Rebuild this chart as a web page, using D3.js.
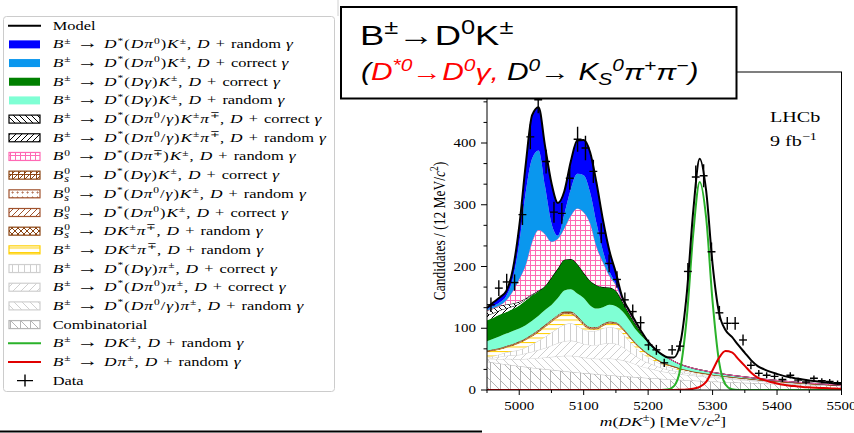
<!DOCTYPE html>
<html>
<head>
<meta charset="utf-8">
<script src="https://cdn.jsdelivr.net/npm/d3@7"></script>
<style>
  body { margin: 0; background: #fff; }
  svg { display: block; }
  text { white-space: pre; }
</style>
</head>
<body>
<svg id="chart" width="854" height="433"></svg>
<script>
// mass points for the fit components, MeV/c^2
var massGrid = d3.range(4950, 5501, 10);

// fit components (candidates per bin), bottom of the stack first
var combinatorial = [46.0,44.5,43.0,41.5,40.1,38.8,37.5,36.2,35.0,33.8,32.7,31.6,30.5,29.5,28.5,27.5,26.6,25.7,24.8,24.0,23.2,22.4,21.7,20.9,20.2,19.5,18.9,18.3,17.6,17.0,16.5,15.9,15.4,14.8,14.3,13.8,13.4,12.9,12.5,12.1,11.7,11.3,10.9,10.5,10.2,9.8,9.5,9.2,8.9,8.6,8.3,8.0,7.7,7.5,7.2,7.0];
var dstarPiRandom = [3,5,7,9,10,11,13,15,17,19,21,23,25,26,26,25,25,25,26,27,27,26,24,21,18,16,14,12,11,10,9,8.5,8,7.5,7,6.5,6,5.5,5,4.6,4.2,3.8,3.4,3,2.7,2.4,2.1,1.8,1.6,1.4,1.2,1,0.8,0.5,0.3,0.1];
var dstarPi0PiCorrect = [1,2.5,4,5,6.4,7.2,9,10.8,13,15.2,18.3,21.4,23.5,24.5,23.5,22.5,21.4,22.3,24.2,25,24.8,21.6,17.3,13.6,10.8,8.5,7.1,5.7,4.4,4,3.2,2.8,2.3,2.1,1.8,1.6,1.4,1.3,1.2,1.1,1,0.9,0.8,0.7,0.6,0.6,0.5,0.4,0.3,0.3,0.2,0.2,0.1,0.1,0,0];
var dstarGammaPiCorrect = [2,3,4,5.5,6.5,8,9.5,12,15,18,21,24,27,28,26,23,22,23,25,26,25,22,17,13.5,11,9,7,6,5,4,3.3,2.8,2.3,2.1,1.9,1.6,1.5,1.3,1.3,1.2,1.1,1,0.9,0.8,0.7,0.6,0.5,0.4,0.4,0.3,0.3,0.2,0.2,0.1,0.1,0];
var dkpipiRandom = [10,9,8,8,9,11,12,13,14,16,17,18,17,15,12,7,3.5,2.5,4,6,7,7,7,6,5.5,4.5,4,3,2.8,2.5,2.2,2,1.7,1.5,1.4,1.3,1.2,1.1,1,1,0.9,0.9,0.8,0.8,0.7,0.7,0.6,0.6,0.5,0.5,0.4,0.4,0.3,0.3,0.3,0.2];
var bsDKpipi = [0.5,0.5,0.5,0.6,0.6,0.6,0.7,0.7,0.7,0.8,0.8,0.8,0.8,0.8,0.8,0.8,0.7,0.7,0.7,0.6,0.6,0.5,0.5,0.4,0.4,0.3,0.3,0.3,0.2,0.2,0.2,0.2,0.1,0.1,0.1];
var bsDstarPi0 = [0.4,0.4,0.5,0.5,0.6,0.7,0.8,0.9,0.9,0.8,0.7,0.7,0.8,0.9,1,0.9,0.8,0.7,0.6,0.5,0.4,0.3,0.3,0.2,0.2,0.1,0.1];
var bsDstarMixed = [0.5,0.5,0.6,0.6,0.6,0.7,0.7,0.8,0.8,0.9,0.9,1,1,1,1,0.9,0.9,0.9,0.9,0.9,0.8,0.8,0.7,0.6,0.5,0.5,0.4,0.4,0.3,0.3,0.3,0.2,0.2,0.2,0.1,0.1];
var bsDstarGamma = [0.6,0.6,0.6,0.7,0.7,0.8,0.8,0.9,1,1.1,1.2,1.3,1.4,1.4,1.3,1.2,1.1,1,1,1,0.9,0.8,0.7,0.6,0.5,0.4,0.4,0.3,0.3,0.3,0.2];
var dstarGammaKRandom = [15,17,19,20,21,21,21,22,23,24,24,27,34,36,36,40,35,30,27,27,26,26,25,22,20,18,14,12,10.5,8,6.5,5.5,5,4.3,4,3.7,3.4,3.1,2.8,2.5,2.3,2.1,1.9,1.7,1.5,1.4,1.2,1.1,1,0.9,0.8,0.7,0.6,0.5,0.4,0.3];
var dstarGammaKCorrect = [34,34,35,35,35.5,37,40,40.7,39.6,38.4,44.4,48.2,50,49,48,41,40,38,32.7,28,25,16.5,11,9,5,0.8,0.5,0.4,0.3,0.3,0.2,0.2,0.1,0.1,0.1];
var dstarKpiRandom = [8,7.5,7,6,4.5,3,1.8,1,0.5,0.2,0.1];
var dstarKpiCorrect = [8,7.5,7,6,4.5,3,1.8,1,0.5,0.2,0.1];
var b0DstarK = [0,1,1,7,20,37,54,85,98,84,58,48,51,70,90,98,93,62,40,19,9,2,1.5,1.5,1,0.3,0.2,0.1];
var dstarPi0KCorrect = [2,3,5,7,20,58,117,135,129,78,30,5,23,43,56,60,50,38,18,7,2,1.5,1,1,0.5,0.2,0.1];
var dstarPi0KRandom = [2,6,8,8,15,27,45,70,70,65,65,53,37,45,54,57,65,65,50,33,18,2.5,2.3,1.6,0.4,0.2,0.1];

// peaking lines, drawn from zero
var signalDK = [0,0,0,0,0,0,0,0,0,0,0,0,0,0,0,0,0,0,0,0,0,0,0,0,0,0,0,0,0.7,6.2,34.4,118,253,337,279,143,46,9,1.1,0.1];
var misidDpi = [0,0,0,0,0,0,0,0,0,0,0,0,0,0,0,0,0,0,0,0,0,0,0,0,0,0,0,0,0,0,0.3,0.8,2,5,13,32,52,63,61,50,39,28,20,16,13,10.5,8.5,7,6,5,4.3,3.7,3.2,2.8,2.4,2];

// data: 45 bins between 4950 and 5500
var dataCounts = [138,165,175,174,284,410,470,370,288,286,343,406,392,354,254,205,179,146,127,109,73,65,44,65,71,192,345,347,224,125,108,108,81,40,27,24,22,17,24,16,13,19,15,14,12];

var xMajorTicks = [5000, 5100, 5200, 5300, 5400, 5500];
var xMinorTicks = [4950, 5050, 5150, 5250, 5350, 5450];
var yMajorTicks = [0, 100, 200, 300, 400, 500];

var legendLabels = [
  "Model",
  "B^{±} → D^{*}(Dπ^{0})K^{±}, D + random γ",
  "B^{±} → D^{*}(Dπ^{0})K^{±}, D + correct γ",
  "B^{±} → D^{*}(Dγ)K^{±}, D + correct γ",
  "B^{±} → D^{*}(Dγ)K^{±}, D + random γ",
  "B^{±} → D^{*}(Dπ^{0}/γ)K^{±}π^{∓}, D + correct γ",
  "B^{±} → D^{*}(Dπ^{0}/γ)K^{±}π^{∓}, D + random γ",
  "B^{0} → D^{*}(Dπ^{∓})K^{±}, D + random γ",
  "B_{s}^{0} → D^{*}(Dγ)K^{±}, D + correct γ",
  "B_{s}^{0} → D^{*}(Dπ^{0}/γ)K^{±}, D + random γ",
  "B_{s}^{0} → D^{*}(Dπ^{0})K^{±}, D + correct γ",
  "B_{s}^{0} → DK^{±}π^{∓}, D + random γ",
  "B^{±} → DK^{±}π^{∓}, D + random γ",
  "B^{±} → D^{*}(Dγ)π^{±}, D + correct γ",
  "B^{±} → D^{*}(Dπ^{0})π^{±}, D + correct γ",
  "B^{±} → D^{*}(Dπ^{0}/γ)π^{±}, D + random γ",
  "Combinatorial",
  "B^{±} → DK^{±}, D + random γ",
  "B^{±} → Dπ^{±}, D + random γ",
  "Data"
];

// the whole picture is stretched sideways, so text is too
var SX = 1.3;

var svg = d3.select("#chart");
var defs = svg.append("defs");

// hatch patterns
function hatch(id, size, color, path, width, bg) {
  var p = defs.append("pattern").attr("id", id)
    .attr("patternUnits", "userSpaceOnUse")
    .attr("width", size).attr("height", size);
  p.append("rect").attr("width", size).attr("height", size).attr("fill", bg || "#fff");
  p.append("path").attr("d", path).attr("stroke", color)
    .attr("stroke-width", width || 1).attr("fill", "none");
  return p;
}
function fwd(s) { return "M0," + s + "L" + s + ",0M-1,1L1,-1M" + (s - 1) + "," + (s + 1) + "L" + (s + 1) + "," + (s - 1); }
function back(s) { return "M0,0L" + s + "," + s + "M-1," + (s - 1) + "L1," + (s + 1) + "M" + (s - 1) + ",-1L" + (s + 1) + ",1"; }

hatch("h-kh1", 6, "#000", back(6));
hatch("h-kh2", 6, "#000", fwd(6));
hatch("h-pink", 5, "#ff69b4", "M0,0.5H5M0.5,0V5");
hatch("h-bs1", 6, "#8b4513", "M0,0.5H6M0.5,0V6" + fwd(6));
hatch("h-bs2", 5, "#a0522d", "M2,2.5a0.6,0.6 0 1,0 1.2,0a0.6,0.6 0 1,0 -1.2,0");
hatch("h-bs3", 6, "#a0522d", fwd(6));
hatch("h-bs4", 6, "#8b4513", fwd(6) + back(6));
hatch("h-yellow", 4.5, "#ffd000", "M0,0.5H4.5");
hatch("h-g1", 6, "#cfcfcf", "M0.5,0V6");
hatch("h-g2", 8, "#cfcfcf", fwd(8));
hatch("h-g3", 8, "#cfcfcf", back(8));
hatch("h-comb", 10, "#b4b4b4", "M0.5,0V10" + back(10), 1);

// stack, bottom first
var components = [
  {key: "comb", values: combinatorial, fill: "url(#h-comb)", edge: "#b4b4b4", legend: 16},
  {key: "g3", values: dstarPiRandom, fill: "url(#h-g3)", edge: "#cfcfcf", legend: 15},
  {key: "g2", values: dstarPi0PiCorrect, fill: "url(#h-g2)", edge: "#cfcfcf", legend: 14},
  {key: "g1", values: dstarGammaPiCorrect, fill: "url(#h-g1)", edge: "#cfcfcf", legend: 13},
  {key: "yel", values: dkpipiRandom, fill: "url(#h-yellow)", edge: "#ffd000", legend: 12},
  {key: "bs4", values: bsDKpipi, fill: "url(#h-bs4)", edge: "#8b4513", legend: 11},
  {key: "bs3", values: bsDstarPi0, fill: "url(#h-bs3)", edge: "#a0522d", legend: 10},
  {key: "bs2", values: bsDstarMixed, fill: "url(#h-bs2)", edge: "#a0522d", legend: 9},
  {key: "bs1", values: bsDstarGamma, fill: "url(#h-bs1)", edge: "#8b4513", legend: 8},
  {key: "aqua", values: dstarGammaKRandom, fill: "#7fffd4", legend: 4},
  {key: "green", values: dstarGammaKCorrect, fill: "#008000", legend: 3},
  {key: "kh2", values: dstarKpiRandom, fill: "url(#h-kh2)", edge: "#000", legend: 6},
  {key: "kh1", values: dstarKpiCorrect, fill: "url(#h-kh1)", edge: "#000", legend: 5},
  {key: "pink", values: b0DstarK, fill: "url(#h-pink)", edge: "#ff69b4", legend: 7},
  {key: "lblue", values: dstarPi0KCorrect, fill: "#0a97ee", legend: 2},
  {key: "dblue", values: dstarPi0KRandom, fill: "#0000ff", legend: 1}
];

var rows = massGrid.map(function(m, i) {
  var r = {mass: m};
  components.forEach(function(c) { r[c.key] = c.values[i] || 0; });
  r.signal = signalDK[i] || 0;
  r.misid = misidDpi[i] || 0;
  return r;
});

var plot = {left: 487, right: 841.5, top: 72, bottom: 390};
var x = d3.scaleLinear().domain([4950, 5500]).range([plot.left, plot.right]);
var y = d3.scaleLinear().domain([0, 515]).range([plot.bottom, plot.top]);

defs.append("clipPath").attr("id", "clip").append("rect")
  .attr("x", plot.left).attr("y", plot.top)
  .attr("width", plot.right - plot.left).attr("height", plot.bottom - plot.top);

var stacked = d3.stack().keys(components.map(function(c) { return c.key; }))(rows);

var g = svg.append("g").attr("clip-path", "url(#clip)");

var area = d3.area().curve(d3.curveMonotoneX)
  .x(function(d) { return x(d.data.mass); })
  .y0(function(d) { return y(d[0]); })
  .y1(function(d) { return y(d[1]); });
var topLine = d3.line().curve(d3.curveMonotoneX)
  .x(function(d) { return x(d.data.mass); })
  .y(function(d) { return y(d[1]); });

stacked.forEach(function(layer, i) {
  var c = components[i];
  g.append("path").attr("d", area(layer)).attr("fill", c.fill);
  if (c.edge) g.append("path").attr("d", topLine(layer))
    .attr("fill", "none").attr("stroke", c.edge).attr("stroke-width", 1);
});

var simpleLine = function(acc) {
  return d3.line().curve(d3.curveMonotoneX)
    .x(function(d) { return x(d.mass); })
    .y(function(d) { return y(acc(d)); });
};

g.append("path").datum(rows)
  .attr("d", simpleLine(function(d) { return d.signal; }))
  .attr("fill", "none").attr("stroke", "#2ab22a").attr("stroke-width", 2);
g.append("path").datum(rows)
  .attr("d", simpleLine(function(d) { return d.misid; }))
  .attr("fill", "none").attr("stroke", "#e00000").attr("stroke-width", 2);

var stackTop = stacked[stacked.length - 1];
g.append("path").datum(rows)
  .attr("d", simpleLine(function(d) {
    var i = rows.indexOf(d);
    return stackTop[i][1] + d.signal + d.misid;
  }))
  .attr("fill", "none").attr("stroke", "#000").attr("stroke-width", 2);

// data with errors
var binWidth = 550 / dataCounts.length;
var pts = g.selectAll(".pt").data(dataCounts).enter().append("g").attr("class", "pt");
pts.append("line")
  .attr("x1", function(d, i) { return x(4950 + i * binWidth); })
  .attr("x2", function(d, i) { return x(4950 + (i + 1) * binWidth); })
  .attr("y1", function(d) { return y(d); })
  .attr("y2", function(d) { return y(d); });
pts.append("line")
  .attr("x1", function(d, i) { return x(4950 + (i + 0.5) * binWidth); })
  .attr("x2", function(d, i) { return x(4950 + (i + 0.5) * binWidth); })
  .attr("y1", function(d) { return y(d - Math.sqrt(d)); })
  .attr("y2", function(d) { return y(d + Math.sqrt(d)); });
pts.selectAll("line").attr("stroke", "#000").attr("stroke-width", 1.4);

// rich text: ^{..} superscript, _{..} subscript, single letters in italic
function parseRich(str, mode) {
  var out = [];
  function push(text, pos) {
    var re = /[A-Za-z]+|[πγ]|→|[^A-Za-zπγ→]+/g, m;
    while ((m = re.exec(text))) {
      var w = m[0], it, kind = "sym";
      if (/^[A-Za-z]+$/.test(w) && w.length > 1 && /[a-z]/.test(w)) kind = "word";
      else if (/^[A-Za-zπγ]+$/.test(w)) kind = "letter";
      else if (w === "→") kind = "arrow";
      if (mode === "all") it = true;
      else if (mode === "none") it = false;
      else it = kind === "letter";
      out.push({text: w, italic: it, pos: pos, kind: kind});
    }
  }
  var buf = "", i = 0;
  while (i < str.length) {
    var ch = str[i];
    if (ch === "^" || ch === "_") {
      if (buf) { push(buf, null); buf = ""; }
      var pos = ch === "^" ? "sup" : "sub", content;
      if (str[i + 1] === "{") {
        var j = str.indexOf("}", i);
        content = str.slice(i + 2, j); i = j + 1;
      } else { content = str[i + 1]; i += 2; }
      push(content, pos);
    } else { buf += ch; i++; }
  }
  if (buf) push(buf, null);
  return out;
}

// wide: loosen the maths a little, like TeX math spacing
function addRich(textSel, str, size, mode, fill, stack, wide) {
  var shift = 0, prev = null;
  parseRich(str, mode).forEach(function(s) {
    var target = s.pos === "sup" ? -0.38 * size : s.pos === "sub" ? 0.22 * size : 0;
    var fs = s.pos ? 0.7 * size : size;
    if (wide && s.kind === "letter") fs *= 1.06;
    if (wide && s.kind === "arrow") fs *= 1.3;
    var t = textSel.append("tspan").text(s.text)
      .attr("dy", target - shift)
      .style("font-size", fs + "px")
      .style("font-style", s.italic ? "italic" : "normal");
    if (wide && s.kind !== "word") t.style("letter-spacing", (0.06 * size) + "px");
    if (fill) t.attr("fill", fill);
    if (stack && s.pos === "sup" && prev && prev.pos === "sub") {
      t.attr("dx", -prev.node.getComputedTextLength());
    }
    shift = target;
    prev = {pos: s.pos, node: t.node()};
  });
  return textSel;
}

function label(px, py, family, anchor, extra) {
  return svg.append("text")
    .attr("transform", "translate(" + px + "," + py + ") " + (extra || "scale(" + SX + ",1)"))
    .attr("text-anchor", anchor || "start")
    .style("font-family", family);
}

var serif = "'Liberation Serif', 'Times New Roman', serif";
var sans = "'Liberation Sans', Arial, sans-serif";

// axes
var axes = svg.append("g");
axes.append("rect")
  .attr("x", plot.left).attr("y", plot.top)
  .attr("width", plot.right - plot.left).attr("height", plot.bottom - plot.top)
  .attr("fill", "none").attr("stroke", "#000").attr("stroke-width", 1);

function ticksY(values, len) {
  axes.selectAll(null).data(values).enter().append("line")
    .attr("x1", plot.left - len).attr("x2", plot.left)
    .attr("y1", function(d) { return y(d); }).attr("y2", function(d) { return y(d); })
    .attr("stroke", "#000").attr("stroke-width", 1);
}
function ticksX(values, len) {
  axes.selectAll(null).data(values).enter().append("line")
    .attr("y1", plot.bottom).attr("y2", plot.bottom + len)
    .attr("x1", function(d) { return x(d); }).attr("x2", function(d) { return x(d); })
    .attr("stroke", "#000").attr("stroke-width", 1);
}
ticksY(yMajorTicks, 6);
ticksY(d3.range(0, 515, 100 / 3).filter(function(v) { return Math.abs(v / 100 - Math.round(v / 100)) > 0.01; }), 3.5);
ticksX(xMajorTicks, 5);
ticksX(xMinorTicks, 3);

yMajorTicks.forEach(function(v) {
  label(plot.left - 11, y(v) + 4, serif, "end").style("font-size", "11.5px").text(v);
});
xMajorTicks.forEach(function(v) {
  label(x(v), 410, serif, "middle").style("font-size", "11.5px").text(v);
});

addRich(label(663, 426, serif, "middle"), "m(DK^{±}) [MeV/c^{2}]", 13.5, "math");
addRich(label(445, 231, serif, "middle", "scale(" + SX + ",1) rotate(-90)"),
  "Candidates / (12 MeV/c^{2})", 13.5, "math");

addRich(label(770, 122, serif), "LHCb", 15.5, "none");
addRich(label(770, 146, serif), "9 fb^{−1}", 15.5, "none");

// legend
var leg = svg.append("g");
leg.append("rect").attr("x", 3.5).attr("y", 16.5).attr("width", 331).attr("height", 375)
  .attr("rx", 3).attr("fill", "#fff").attr("stroke", "#cccccc").attr("stroke-width", 1);

legendLabels.forEach(function(text, i) {
  var cy = 25.7 + i * 18.68;
  var comp = components.filter(function(c) { return c.legend === i; })[0];
  if (comp) {
    leg.append("rect").attr("x", 9).attr("y", cy - 4).attr("width", 31).attr("height", 8)
      .attr("fill", comp.fill)
      .attr("stroke", comp.edge || "none").attr("stroke-width", 1.2);
  } else if (i === 19) {
    leg.append("path").attr("d", "M17," + cy + "H33M25," + (cy - 6) + "V" + (cy + 6))
      .attr("stroke", "#000").attr("stroke-width", 1.4);
  } else {
    var col = i === 0 ? "#000" : i === 17 ? "#2ab22a" : "#e00000";
    leg.append("line").attr("x1", 8).attr("x2", 41).attr("y1", cy).attr("y2", cy)
      .attr("stroke", col).attr("stroke-width", 2);
  }
  addRich(label(52.7, cy + 4, serif), text, 12.6, "math", null, true, true);
});

// title box
svg.append("rect").attr("x", 341).attr("y", 7).attr("width", 395.5).attr("height", 91.5)
  .attr("fill", "#fff").attr("stroke", "#000").attr("stroke-width", 2);
addRich(label(360, 45, sans), "B^{±}→D^{0}K^{±}", 28, "none");
var t2 = label(361, 80, sans);
addRich(t2, "(", 23, "all");
addRich(t2, "D^{*0}→D^{0}γ,", 23, "all", "#ff0000");
addRich(t2, " D^{0}→ K_{S}^{0}π^{+}π^{−})", 23, "all");

// stray frame pieces around the figure
svg.append("line").attr("x1", 338).attr("x2", 338).attr("y1", 0).attr("y2", 16)
  .attr("stroke", "#d0d0d0").attr("stroke-width", 1);
svg.append("line").attr("x1", 0).attr("x2", 482).attr("y1", 431.5).attr("y2", 431.5)
  .attr("stroke", "#000").attr("stroke-width", 2);
</script>
</body>
</html>
